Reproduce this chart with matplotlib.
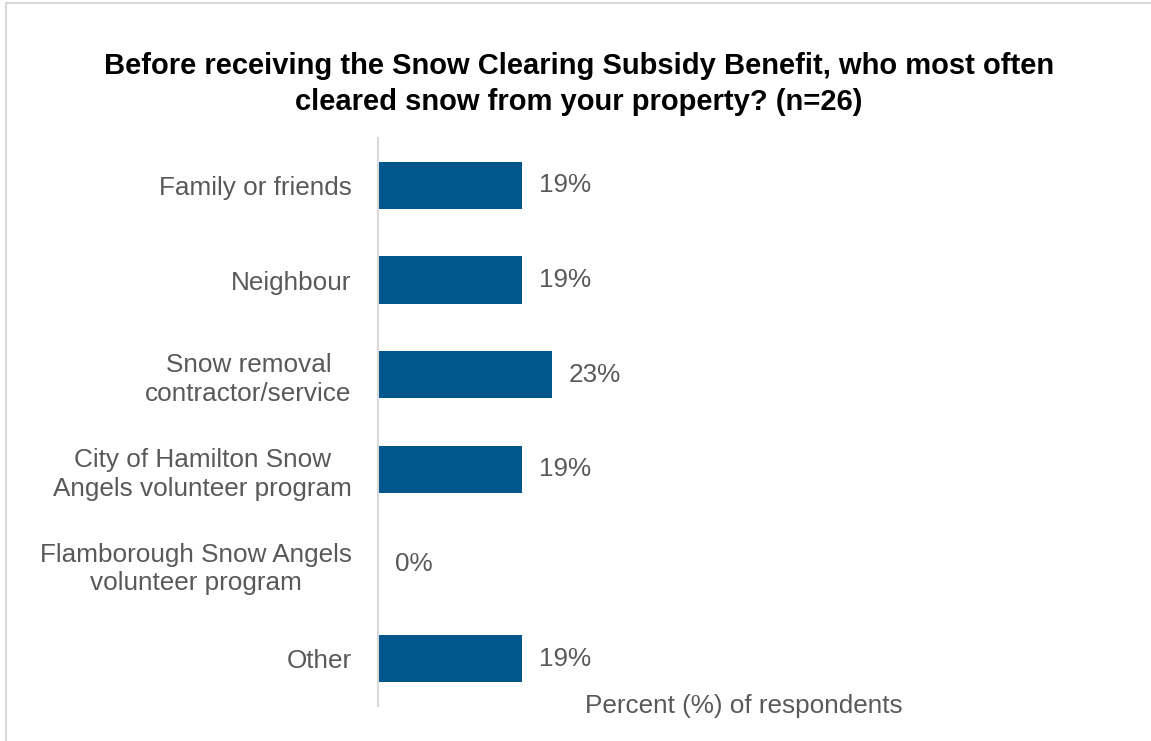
import matplotlib
matplotlib.use('Agg')
from matplotlib import pyplot as plt
from matplotlib import rcParams
from matplotlib.lines import Line2D

rcParams['font.family'] = ['Liberation Sans', 'DejaVu Sans']

categories = [
    'Family or friends',
    'Neighbour',
    'Snow removal\ncontractor/service',
    'City of Hamilton Snow\nAngels volunteer program',
    'Flamborough Snow Angels\nvolunteer program',
    'Other',
]
percents = [19.2, 19.2, 23.1, 19.2, 0, 19.2]

title = ('Before receiving the Snow Clearing Subsidy Benefit, who most often\n'
         'cleared snow from your property? (n=26)')
xlabel = 'Percent (%) of respondents'

bar_color = '#00578e'
text_gray = '#595959'
line_gray = '#d9d9d9'
fs = 18.8

fig = plt.figure(figsize=(11.51, 7.41), dpi=100)
ax = fig.add_axes([0.3284, 0.0472, 0.627, 0.7665])

y = list(range(len(categories)))
ax.barh(y, percents, height=0.5, color=bar_color)
for yi, v in zip(y, percents):
    ax.text(v + 2.2, yi, f'{v:.0f}%', va='center', ha='left',
            fontsize=fs, color=text_gray)

ax.set_ylim(len(categories) - 0.5, -0.5)
ax.set_xlim(0, 96)
ax.set_yticks(y)
ax.set_yticklabels(categories, fontsize=fs, color=text_gray,
                   multialignment='center', linespacing=1.25)
ax.tick_params(axis='y', length=0, pad=19)
ax.set_xticks([])

for s in ['top', 'right', 'bottom']:
    ax.spines[s].set_visible(False)
ax.spines['left'].set_color(line_gray)
ax.spines['left'].set_linewidth(1.5)

ax.text(0.507, 0.0, xlabel, transform=ax.transAxes, ha='center', va='center',
        fontsize=fs, color=text_gray)

fig.text(0.503, 0.887, title, ha='center', va='center', fontsize=21,
         fontweight='bold', color='black', linespacing=1.35)

# chart frame (left and top edges visible)
fig.add_artist(Line2D([0.0052, 0.0052], [0, 0.9953], transform=fig.transFigure,
                      color=line_gray, lw=1.5))
fig.add_artist(Line2D([0.0052, 1], [0.9953, 0.9953], transform=fig.transFigure,
                      color=line_gray, lw=1.5))

fig.savefig('out.png', dpi=100)
